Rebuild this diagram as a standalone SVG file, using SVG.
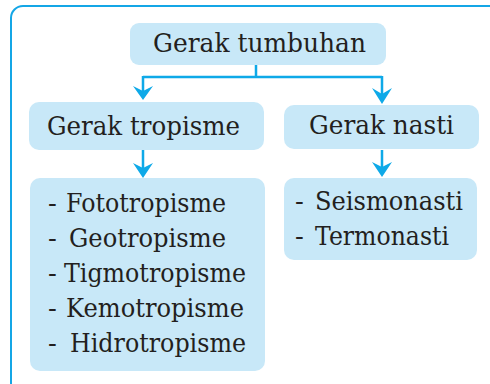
<svg xmlns="http://www.w3.org/2000/svg" width="490" height="384" viewBox="0 0 490 384">
<style>
.box{fill:#c8e8f8}
.t{font-family:"DejaVu Serif","Liberation Serif",serif;font-size:26px;fill:#231f20}
.c{fill:none;stroke:#0ea9e8;stroke-width:2.5}
.ah{fill:#0ea9e8}
</style>
<rect x="11" y="6" width="500" height="420" rx="12" fill="#fff" stroke="#14a6e6" stroke-width="2"/>
<g id="connectors">
<path class="c" d="M256,65 V77 M143,77 H382 M143,76 V96 M382,76 V100 M143,150 V172 M382,150 V172"/>
<path class="ah" d="M143,100 L133,86 L143,91 L153,86 Z"/>
<path class="ah" d="M382,104 L372,88 L382,94 L392,88 Z"/>
<path class="ah" d="M143,178 L133,163 L143,168 L153,163 Z"/>
<path class="ah" d="M382,177 L372,162 L382,167 L392,162 Z"/>
</g>
<g id="n-root">
<rect class="box" x="130" y="23" width="256" height="42" rx="9"/>
<text class="t" x="153" y="52" textLength="213" lengthAdjust="spacingAndGlyphs">Gerak tumbuhan</text>
</g>
<g id="n-tropisme">
<rect class="box" x="29" y="102" width="235" height="48" rx="10"/>
<text class="t" x="47" y="135" textLength="193" lengthAdjust="spacingAndGlyphs">Gerak tropisme</text>
</g>
<g id="n-nasti">
<rect class="box" x="284" y="105" width="195" height="44" rx="10"/>
<text class="t" x="309" y="134" textLength="145" lengthAdjust="spacingAndGlyphs">Gerak nasti</text>
</g>
<g id="n-tropisme-list">
<rect class="box" x="30" y="178" width="235" height="193" rx="10"/>
<text class="t" y="212"><tspan x="48">-</tspan><tspan x="66" textLength="160" lengthAdjust="spacingAndGlyphs">Fototropisme</tspan></text>
<text class="t" y="247"><tspan x="48">-</tspan><tspan x="69" textLength="157" lengthAdjust="spacingAndGlyphs">Geotropisme</tspan></text>
<text class="t" y="282"><tspan x="48">-</tspan><tspan x="64" textLength="182" lengthAdjust="spacingAndGlyphs">Tigmotropisme</tspan></text>
<text class="t" y="317"><tspan x="48">-</tspan><tspan x="66" textLength="178" lengthAdjust="spacingAndGlyphs">Kemotropisme</tspan></text>
<text class="t" y="352"><tspan x="48">-</tspan><tspan x="70" textLength="176" lengthAdjust="spacingAndGlyphs">Hidrotropisme</tspan></text>
</g>
<g id="n-nasti-list">
<rect class="box" x="284" y="178" width="193" height="82" rx="10"/>
<text class="t" y="210"><tspan x="295">-</tspan><tspan x="315" textLength="148" lengthAdjust="spacingAndGlyphs">Seismonasti</tspan></text>
<text class="t" y="245"><tspan x="295">-</tspan><tspan x="315" textLength="134" lengthAdjust="spacingAndGlyphs">Termonasti</tspan></text>
</g>
</svg>
